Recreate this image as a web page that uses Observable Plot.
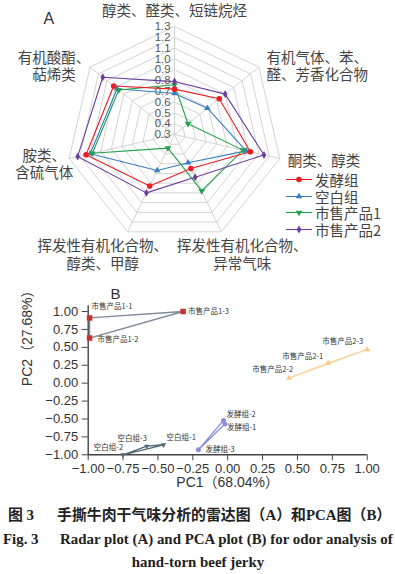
<!DOCTYPE html>
<html><head><meta charset="utf-8">
<script src="https://cdn.jsdelivr.net/npm/d3@7"></script>
<script src="https://cdn.jsdelivr.net/npm/@observablehq/plot@0.6"></script>
<style>
body{margin:0;background:#fff;}
#wrap{position:relative;width:395px;height:574px;overflow:hidden;font-family:"Liberation Sans","Noto Sans CJK SC",sans-serif;}
#radar{position:absolute;left:0;top:0;}
#pca{position:absolute;left:0;top:280px;}
.cap{position:absolute;white-space:nowrap;font-family:"Liberation Serif","Noto Sans CJK SC",serif;font-weight:bold;font-size:14.9px;line-height:16px;color:#222;}
.leg{position:absolute;left:286px;height:15px;line-height:15px;display:flex;align-items:center;font-family:"Noto Sans CJK SC",sans-serif;font-size:14.5px;color:#444;white-space:nowrap;}
.leg span{line-height:15px;height:15px;display:block;}
.leg svg{margin-right:3px;}
</style></head><body>
<div id="wrap">
  <div id="radar"></div>
  <div id="legend"></div>
  <div id="pca"></div>
  <div class="cap" style="left:8px;top:507px;">图 3</div>
  <div class="cap" style="left:57px;top:507px;">手撕牛肉干气味分析的雷达图（A）和PCA图（B）</div>
  <div class="cap" style="left:3px;top:531px;">Fig. 3</div>
  <div class="cap" style="left:60px;top:531px;">Radar plot (A) and PCA plot (B) for odor analysis of</div>
  <div class="cap" style="left:0;width:396px;text-align:center;top:554px;">hand-torn beef jerky</div>
</div>
<script>
// ---------- Radar data ----------
const axisLabels = ["醇类、醛类、短链烷烃", "有机气体、苯、\n醛、芳香化合物", "酮类、醇类", "挥发性有机化合物、\n异常气味", "挥发性有机化合物、\n醇类、甲醇", "胺类、\n含硫气体", "有机酸酯、\n萜烯类"];
const groups = ["发酵组", "空白组", "市售产品1", "市售产品2"];
const fermented = [0.72, 0.83, 1.02, 0.65, 0.83, 1.14, 1.02];
const blank     = [0.68, 0.69, 0.98, 0.59, 0.67, 1.10, 0.98];
const product1  = [0.76, 0.46, 0.95, 0.88, 0.44, 1.08, 0.96];
const product2  = [0.79, 0.90, 1.15, 0.74, 0.90, 1.22, 1.15];
const radarTicks = [0.3, 0.4, 0.5, 0.6, 0.7, 0.8, 0.9, 1.0, 1.1, 1.2, 1.3];

// ---------- PCA data ----------
const pcaNames = ["市售产品1-1", "市售产品1-2", "市售产品1-3", "市售产品2-1", "市售产品2-2", "市售产品2-3", "发酵组-1", "发酵组-2", "发酵组-3", "空白组-1", "空白组-2", "空白组-3"];
const pcaGroups = ["市售产品1", "市售产品1", "市售产品1", "市售产品2", "市售产品2", "市售产品2", "发酵组", "发酵组", "发酵组", "空白组", "空白组", "空白组"];
const pc1Values = [-0.99, -0.99, -0.32, 0.72, 0.44, 1.00, -0.02, -0.03, -0.21, -0.46, -0.75, -0.58];
const pc2Values = [0.91, 0.63, 1.00, 0.28, 0.07, 0.47, -0.57, -0.52, -0.93, -0.86, -1.00, -0.88];
const pcaTicks = [-1, -0.75, -0.5, -0.25, 0, 0.25, 0.5, 0.75, 1];

// ---------- styles ----------
const radarColors = ["#ec1c24", "#3a7dc2", "#22a04b", "#6a3d9e"];
const radarSymbols = ["circle", "triangle", "triangle", "diamond"];
const radarRotate = [0, 0, 180, 0];
const radarR = [2.8, 2.4, 2.4, 2.4];
const labelPlace = [
  {anchor: "middle", dx: 0, dy: -16},
  {anchor: "start", dx: 7.6, dy: -1},
  {anchor: "start", dx: 8, dy: 2},
  {anchor: "middle", dx: 21, dy: 22.5},
  {anchor: "middle", dx: -25, dy: 22.5},
  {anchor: "middle", dx: -25, dy: 5.3},
  {anchor: "middle", dx: -36, dy: -1}
];
const pcaStyle = {
  "市售产品1": {line: "#7d8a97", fill: "#c9302c", symbol: "square", r: 3.1, rotate: 0},
  "市售产品2": {line: "#fcd39c", fill: "#fcc983", symbol: "triangle", r: 2.2, rotate: 0},
  "发酵组":   {line: "#8b8fd8", fill: "#8b8fd8", symbol: "circle", r: 2.5, rotate: 0},
  "空白组":   {line: "#4f6a75", fill: "#4f6a75", symbol: "triangle", r: 2.0, rotate: 180}
};
const pcaLabelPlace = {
  "市售产品1-1": {anchor: "start", dx: 2, dy: -11.5},
  "市售产品1-2": {anchor: "start", dx: 8, dy: 2},
  "市售产品1-3": {anchor: "start", dx: 5, dy: 0},
  "市售产品2-1": {anchor: "end", dx: -5, dy: -6},
  "市售产品2-2": {anchor: "end", dx: 4, dy: -9},
  "市售产品2-3": {anchor: "end", dx: -4, dy: -7.6},
  "发酵组-1": {anchor: "start", dx: 2, dy: 4},
  "发酵组-2": {anchor: "start", dx: 3, dy: -6},
  "发酵组-3": {anchor: "start", dx: 7, dy: 0},
  "空白组-1": {anchor: "start", dx: 3, dy: -7},
  "空白组-2": {anchor: "end", dx: 0, dy: -7},
  "空白组-3": {anchor: "end", dx: 0, dy: -8}
};

const W = 395;
const fontSans = "'Liberation Sans','Noto Sans CJK SC',sans-serif";

// ---------- Radar ----------
const RH = 275, K = 108, CX = 174, CY = 134;
const n = axisLabels.length;
const rMin = radarTicks[0];
const rMax = radarTicks[radarTicks.length - 1];
const ang = i => i * 2 * Math.PI / n;
const polar = (v, i) => ({x: (v - rMin) * Math.sin(ang(i)), y: (v - rMin) * Math.cos(ang(i))});
const seriesValues = [fermented, blank, product1, product2];

const rings = radarTicks.slice(1).flatMap(t => d3.range(n + 1).map(j => ({level: t, ...polar(t, j % n)})));
const spokes = d3.range(n).map(i => ({i, ...polar(rMax, i)}));
const radarPaths = groups.flatMap((g, gi) => [...seriesValues[gi], seriesValues[gi][0]].map((v, j) => ({group: g, ...polar(v, j % n)})));
const radarPts = groups.flatMap((g, gi) => seriesValues[gi].map((v, i) => ({group: g, v, ...polar(v, i)})));

const drawOrder = [1, 2, 0, 3];
const radarMarks = [
  Plot.line(rings, {x: "x", y: "y", z: "level", stroke: "#d4d4d4", strokeWidth: 1}),
  Plot.link(spokes, {x1: 0, y1: 0, x2: "x", y2: "y", stroke: "#d4d4d4", strokeWidth: 1}),
  Plot.text(radarTicks, {x: 0, y: t => t - rMin, text: t => t.toFixed(1), textAnchor: "end", dx: -4, fontSize: 11.4, fill: "#555"}),
  ...drawOrder.map(gi => Plot.line(radarPaths.filter(d => d.group === groups[gi]), {x: "x", y: "y", stroke: radarColors[gi], strokeWidth: 1.1})),
  ...drawOrder.map(gi => Plot.dot(radarPts.filter(d => d.group === groups[gi]), {x: "x", y: "y", symbol: radarSymbols[gi], rotate: radarRotate[gi], r: radarR[gi], fill: radarColors[gi], stroke: "none"})),
  ...axisLabels.map((lab, i) => {
    const p = polar(rMax, i);
    const lp = labelPlace[i];
    return Plot.text([lab], {x: p.x, y: p.y, text: d => d, dx: lp.dx, dy: lp.dy, textAnchor: lp.anchor, lineHeight: 1.2, fontSize: 14.5, fill: "#444", fontFamily: "'Noto Sans CJK SC',sans-serif"});
  }),
  Plot.text(["A"], {frameAnchor: "top-left", dx: 43, dy: 12, fontSize: 16, fill: "#333"})
];

const radar = Plot.plot({
  width: W, height: RH, margin: 0,
  x: {domain: [-CX / K, (W - CX) / K], axis: null},
  y: {domain: [-(RH - CY) / K, CY / K], axis: null},
  style: {fontFamily: fontSans, background: "transparent"},
  marks: radarMarks
});
document.getElementById("radar").appendChild(radar);

// legend
const legend = document.getElementById("legend");
const legendTop = [179.5, 196.1, 212.7, 229.3];
groups.forEach((g, gi) => {
  const div = document.createElement("div");
  div.className = "leg";
  div.style.top = (legendTop[gi] - 7.5) + "px";
  const sym = {circle: d3.symbolCircle, triangle: d3.symbolTriangle, diamond: d3.symbolDiamond}[radarSymbols[gi]];
  const r = radarR[gi];
  const path = d3.symbol(sym, Math.PI * r * r)();
  div.innerHTML = `<svg width="26" height="15"><line x1="0" x2="26" y1="7.5" y2="7.5" stroke="${radarColors[gi]}" stroke-width="1.1"/><path d="${path}" transform="translate(13,7.5) rotate(${radarRotate[gi]})" fill="${radarColors[gi]}"/></svg><span>${g}</span>`;
  legend.appendChild(div);
});

// ---------- PCA ----------
const pcaPts = pcaNames.map((name, i) => ({name, group: pcaGroups[i], x: pc1Values[i], y: pc2Values[i]}));
const pcaGroupOrder = ["市售产品1", "市售产品2", "发酵组", "空白组"];
const pcaMarks = [
  Plot.ruleX([-1], {y1: -1, y2: 1.08, stroke: "#444", strokeWidth: 1.4}),
  Plot.ruleY([-1], {x1: -1, x2: 1, stroke: "#444", strokeWidth: 1.4}),
  Plot.axisX({ticks: pcaTicks, tickFormat: d3.format(".2f"), tickSize: 6, tickPadding: 3, label: null, stroke: "#444", fill: "#333", fontSize: 13}),
  Plot.axisY({ticks: pcaTicks, tickFormat: d3.format(".2f"), tickSize: 6, tickPadding: 4, label: null, stroke: "#444", fill: "#333", fontSize: 13}),
  ...pcaGroupOrder.map(g => {
    const pts = pcaPts.filter(d => d.group === g);
    return Plot.line([...pts, pts[0]], {x: "x", y: "y", stroke: pcaStyle[g].line, strokeWidth: 1.3});
  }),
  ...pcaGroupOrder.map(g => Plot.dot(pcaPts.filter(d => d.group === g), {x: "x", y: "y", symbol: pcaStyle[g].symbol, r: pcaStyle[g].r, rotate: pcaStyle[g].rotate, fill: pcaStyle[g].fill, stroke: "none"})),
  ...pcaPts.map(d => {
    const lp = pcaLabelPlace[d.name];
    return Plot.text([d], {x: "x", y: "y", text: "name", dx: lp.dx, dy: lp.dy, textAnchor: lp.anchor, fontSize: 7.5, fill: "#333", fontFamily: "'Noto Sans CJK SC',sans-serif"});
  }),
  Plot.text(["PC1（68.04%）"], {frameAnchor: "bottom", dy: 32.4, fontSize: 14, fill: "#333", fontFamily: "'Liberation Sans','Noto Sans CJK SC',sans-serif"}),
  Plot.text(["PC2（27.68%）"], {frameAnchor: "left", rotate: -90, dx: -61, dy: 3, fontSize: 14, fill: "#333", fontFamily: "'Liberation Sans','Noto Sans CJK SC',sans-serif"}),
  Plot.text(["B"], {frameAnchor: "top-left", dx: 22.3, dy: -23.5, fontSize: 15, fill: "#333"})
];
const pca = Plot.plot({
  width: W, height: 220,
  marginLeft: 87.7, marginRight: 28.3, marginTop: 31, marginBottom: 45.7,
  x: {domain: [-1, 1]},
  y: {domain: [-1, 1]},
  style: {fontFamily: fontSans, background: "transparent", overflow: "visible"},
  marks: pcaMarks
});
document.getElementById("pca").appendChild(pca);
</script>
</body></html>
